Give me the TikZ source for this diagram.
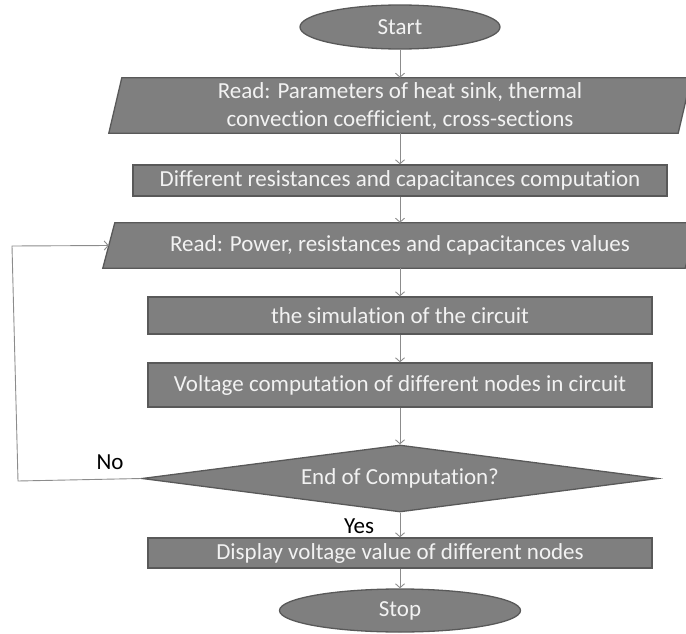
\documentclass[tikz,border=0pt]{standalone}
\usepackage{fontspec}
\setmainfont{Carlito}[Ligatures={NoCommon}]
\usetikzlibrary{shapes.geometric,arrows.meta,backgrounds}
\definecolor{boxfill}{HTML}{7F7F7F}
\definecolor{boxline}{HTML}{595959}
\definecolor{txtc}{HTML}{F2F2F2}
\definecolor{connc}{HTML}{8C8C8C}
\tikzset{
 base/.style={inner sep=0pt, text=txtc, font=\fontsize{23}{28}\selectfont, align=center},
 procbox/.style={base, rectangle, draw=boxline, fill=boxfill, line width=1.3pt},
 iobox/.style={base, rectangle},
 term/.style={base, ellipse, draw=boxline, fill=boxfill, line width=1.3pt},
 decis/.style={base, diamond, draw=boxline, fill=boxfill, line width=1.3pt, aspect=7.7},
 para/.style={draw=boxline, fill=boxfill, line width=1.3pt, line join=miter},
 link/.style={draw=connc, line width=0.9pt, -{Straight Barb[length=4pt,width=9pt]}},
 lbl/.style={inner sep=0pt, text=black, font=\fontsize{23}{28}\selectfont}
}
\begin{document}
\begin{tikzpicture}[x=1pt,y=-1pt]
\useasboundingbox (0,0) rectangle (686,634);
\node[term, minimum width=200pt, minimum height=44pt] (start) at (400,27) {Start};
\node[iobox, minimum width=569pt, minimum height=55pt] (p1) at (400,105.5) {Read: Parameters of heat sink, thermal\\convection coefficient, cross-sections};
\node[procbox, minimum width=534pt, minimum height=31pt] (r2) at (400,180.5) {Different resistances and capacitances computation};
\node[iobox, minimum width=582pt, minimum height=45pt] (p3) at (400,245.5) {Read: Power, resistances and capacitances values};
\node[procbox, minimum width=504pt, minimum height=37pt] (r4) at (400,315.5) {the simulation of the circuit};
\node[procbox, minimum width=504pt, minimum height=44pt] (r5) at (400,385) {Voltage computation of different nodes in circuit};
\node[decis, minimum width=516pt, minimum height=67pt] (d) at (400,478.5) {End of Computation?};
\node[procbox, minimum width=504pt, minimum height=30pt] (r6) at (400,553) {Display voltage value of different nodes};
\node[term, minimum width=241pt, minimum height=43pt] (stop) at (400,610.5) {Stop};
\node[lbl] (no) at (110,462) {No};
\node[lbl] (yes) at (359,526) {Yes};
\begin{pgfonlayer}{background}
\path[para] ([xshift=6.5pt]p1.north west) -- ([xshift=6.5pt]p1.north east) -- ([xshift=-6.5pt]p1.south east) -- ([xshift=-6.5pt]p1.south west) -- cycle;
\path[para] ([xshift=6pt]p3.north west) -- ([xshift=6pt]p3.north east) -- ([xshift=-6pt]p3.south east) -- ([xshift=-6pt]p3.south west) -- cycle;
\end{pgfonlayer}
\coordinate (l1) at (18,481);
\coordinate (l2) at (12,246);
\draw[link] (start.south) -- (p1.north);
\draw[link] (p1.south) -- (r2.north);
\draw[link] (r2.south) -- (p3.north);
\draw[link] (p3.south) -- (r4.north);
\draw[link] (r4.south) -- (r5.north);
\draw[link] (r5.south) -- (d.north);
\draw[link] (d.south) -- (r6.north);
\draw[link] (r6.south) -- (stop.north);
\draw[link] (d.west) -- (l1) -- (l2) -- (p3.west);
\end{tikzpicture}
\end{document}
